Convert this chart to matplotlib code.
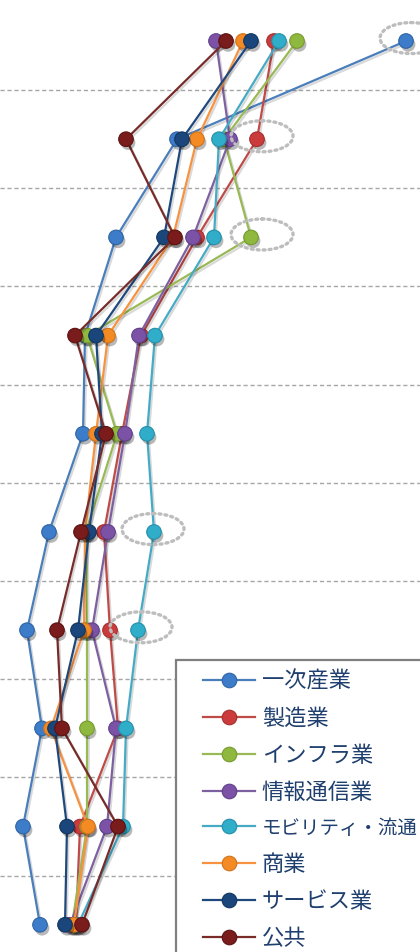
import matplotlib
matplotlib.use("Agg")
import matplotlib.pyplot as plt
from matplotlib.patches import Ellipse, Rectangle
import matplotlib.patheffects as pe

plt.rcParams['font.family'] = ['Noto Sans CJK JP', 'DejaVu Sans']

# ---- data ----
levels = list(range(1, 11))
series_names = ["一次産業", "製造業", "インフラ業", "情報通信業", "モビリティ・流通", "商業", "サービス業", "公共"]
primary = [406, 177, 116, 85, 83, 49, 27, 42, 23, 40]
manufacturing = [274, 257, 197, 141, 122, 104, 110, 118, 80, 76]
infrastructure = [297, 224, 251, 87, 117, 86, 87, 87, 87, 72]
ict = [216, 230, 193, 139, 125, 108, 92, 116, 107, 70]
mobility = [279, 219, 214, 155, 147, 154, 138, 126, 123, 78]
commerce = [243, 197, 173, 108, 96, 85, 84, 51, 88, 74]
services = [251, 182, 164, 96, 102, 89, 78, 55, 67, 65]
public = [226, 126, 175, 75, 106, 81, 57, 62, 118, 82]
all_values = [primary, manufacturing, infrastructure, ict, mobility, commerce, services, public]

# highlighted points: (series index, level)
highlights = [(0, 1), (3, 2), (2, 3), (4, 6), (1, 7)]
highlight_shift = [5, 32, 11, -1, 31]

line_colors = ["#4A7EBB", "#BE4B48", "#98B954", "#7D60A0", "#46AAC5", "#F69240", "#1F497D", "#772C2A"]
marker_colors = ["#3C7CC8", "#CC3B3B", "#8FB93E", "#7B52A6", "#2FADC9", "#F38A24", "#1B467B", "#7A1C1C"]
edge_colors = ["#2F64A6", "#A52E2E", "#76992F", "#61408A", "#2590A8", "#D0731A", "#123660", "#5C1212"]

W, H = 420, 952
fig = plt.figure(figsize=(W / 100, H / 100), dpi=100)
ax = fig.add_axes([0, 0, 1, 1])
px_per_level = 98.2
top = 1 - 41 / px_per_level
bottom = 1 + (H - 41) / px_per_level
ax.set_xlim(0, W)
ax.set_ylim(bottom, top)
ax.axis('off')

for g in range(1, 10):
    ax.axhline(g + 0.5, color="#A6A6A6", lw=1.0, ls=(0, (3, 2)), zorder=1)

shadow_line = [pe.SimpleLineShadow(offset=(1.2, -1.5), shadow_color='black', alpha=0.15), pe.Normal()]
shadow_mark = [pe.SimplePatchShadow(offset=(1.5, -2.5), shadow_rgbFace='black', alpha=0.28), pe.Normal()]

handles = []
for i, (name, vals) in enumerate(zip(series_names, all_values)):
    z = 3 + i * 2
    ax.plot(vals, levels, color=line_colors[i], lw=1.6, zorder=z, path_effects=shadow_line)
    ax.plot(vals, levels, ls='none', marker='o', ms=10.5, mfc=marker_colors[i],
            mec=edge_colors[i], mew=0.8, zorder=z + 1, path_effects=shadow_mark)
    h, = ax.plot([], [], color=line_colors[i], lw=1.6, marker='o', ms=10.5,
                 mfc=marker_colors[i], mec=edge_colors[i], mew=0.8, label=name)
    handles.append(h)

for (si, lv), dx in zip(highlights, highlight_shift):
    x = all_values[si][lv - 1]
    e = Ellipse((x + dx, lv - 0.03), 62, 31 / px_per_level, fill=False, ec="#BDBDBD",
                lw=2.4, ls=(0, (0.6, 1.2)), capstyle='round', zorder=40)
    ax.add_patch(e)

# legend frame
fig.patches.append(Rectangle((176 / W, 1 - 1000 / H), 300 / W, (1000 - 660) / H,
                             transform=fig.transFigure, fill=True, fc='white',
                             ec="#7F7F7F", lw=1.6, zorder=50))
leg = fig.legend(handles=handles, loc='upper left', bbox_to_anchor=(196 / W, 1 - 663 / H),
                 frameon=False, prop={'size': 16}, handlelength=2.34, handletextpad=0.32,
                 labelspacing=0.63, borderpad=0.3, borderaxespad=0)
leg.set_zorder(60)
for t in leg.get_texts():
    t.set_color("#1F3F6E")
    if len(t.get_text()) > 6:
        t.set_fontsize(14)

fig.savefig("out.png", dpi=100)
